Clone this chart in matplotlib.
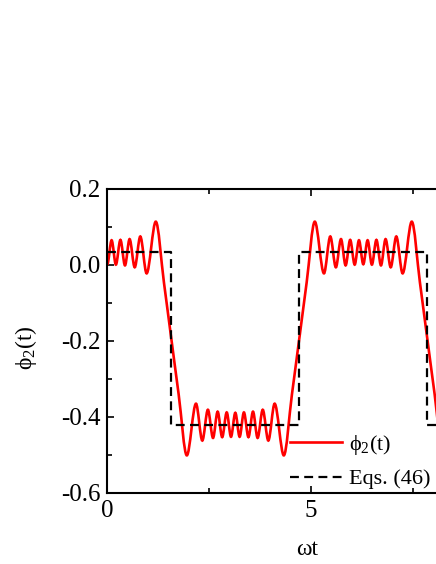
import matplotlib
matplotlib.use('Agg')
import matplotlib.pyplot as plt
from matplotlib.path import Path
from matplotlib.patches import PathPatch
from matplotlib.lines import Line2D
from matplotlib.ticker import MultipleLocator

plt.rcParams['font.family'] = ['Liberation Serif', 'DejaVu Serif']
plt.rcParams['mathtext.fontset'] = 'custom'
plt.rcParams['mathtext.rm'] = 'Liberation Serif'
plt.rcParams['mathtext.it'] = 'Liberation Serif:italic'

# phi_2(t): turning points / key points
t_phi = [0.000, 0.106, 0.211, 0.322, 0.434, 0.547, 0.673, 0.810, 0.965, 1.190,
         1.390, 1.571, 1.752,
         1.952, 2.177, 2.332, 2.469, 2.595, 2.708, 2.820, 2.931, 3.036, 3.142,
         3.248, 3.353, 3.464, 3.576, 3.689, 3.815, 3.952, 4.107, 4.332,
         4.531, 4.712, 4.893,
         5.093, 5.318, 5.473, 5.610, 5.736, 5.849, 5.961, 6.072, 6.177, 6.283,
         6.389, 6.494, 6.605, 6.717, 6.830, 6.956, 7.093, 7.248, 7.473,
         7.673, 7.854, 8.035,
         8.236, 8.460, 8.615]
phi = [0.002, 0.065, 0.001, 0.066, -0.001, 0.068, -0.006, 0.075, -0.022, 0.114,
       -0.046, -0.194, -0.341,
       -0.501, -0.365, -0.462, -0.381, -0.455, -0.386, -0.453, -0.388, -0.452, -0.389,
       -0.452, -0.388, -0.453, -0.386, -0.455, -0.381, -0.462, -0.365, -0.501,
       -0.341, -0.194, -0.046,
       0.114, -0.022, 0.075, -0.006, 0.068, -0.001, 0.066, 0.001, 0.065, 0.002,
       0.065, 0.001, 0.066, -0.001, 0.068, -0.006, 0.075, -0.022, 0.114,
       -0.046, -0.194, -0.341,
       -0.501, -0.365, -0.462]

# Eqs. (46): step function
t_eq = [0, 1.571, 1.571, 4.712, 4.712, 7.854, 7.854, 10.5]
phi_eq = [0.033, 0.033, -0.42, -0.42, 0.033, 0.033, -0.42, -0.42]

lab_phi = 'ϕ$_\\mathregular{2}$(t)'


def smooth_path(ts, ys):
    # cubic bezier through the points, flat at the turning points
    n = len(ts)
    m = []
    for i in range(n):
        if i == 0:
            m.append(0.0)
        elif i == n - 1:
            m.append((ys[i] - ys[i - 1]) / (ts[i] - ts[i - 1]))
        elif (ys[i] - ys[i - 1]) * (ys[i + 1] - ys[i]) <= 0:
            m.append(0.0)
        else:
            m.append((ys[i + 1] - ys[i - 1]) / (ts[i + 1] - ts[i - 1]))
    verts = [(ts[0], ys[0])]
    codes = [Path.MOVETO]
    for i in range(n - 1):
        h = ts[i + 1] - ts[i]
        verts += [(ts[i] + h / 3, ys[i] + m[i] * h / 3),
                  (ts[i + 1] - h / 3, ys[i + 1] - m[i + 1] * h / 3),
                  (ts[i + 1], ys[i + 1])]
        codes += [Path.CURVE4] * 3
    return Path(verts, codes)


fig = plt.figure(figsize=(4.36, 5.64), dpi=100)
ax = fig.add_axes([0.2461, 0.1259, 0.9158, 0.5390])

ax.add_patch(PathPatch(smooth_path(t_phi, phi), facecolor='none',
                       edgecolor='red', lw=1.9, zorder=2))
ax.plot(t_eq, phi_eq, color='black', ls='--', lw=1.6, dashes=(4, 2.4), zorder=3)

ax.set_xlim(0, 9.8)
ax.set_ylim(-0.6, 0.2)
ax.xaxis.set_major_locator(MultipleLocator(5))
ax.xaxis.set_minor_locator(MultipleLocator(2.5))
ax.yaxis.set_major_locator(MultipleLocator(0.2))
ax.yaxis.set_minor_locator(MultipleLocator(0.1))
ax.yaxis.set_major_formatter(plt.FuncFormatter(lambda v, p: f'{v:.1f}'))
ax.tick_params(which='both', direction='in', top=True, right=True,
               labelsize=18, width=1.2)
ax.tick_params(which='major', length=5, pad=5)
ax.tick_params(which='minor', length=3.5)
for s in ax.spines.values():
    s.set_linewidth(1.5)

ax.set_xlabel('ωt', fontsize=17)
ax.set_ylabel(lab_phi, fontsize=17)
ax.xaxis.set_label_coords(0.5, -0.152)
ax.yaxis.set_label_coords(-0.17, 0.477)

handles = [Line2D([], [], color='red', lw=1.9),
           Line2D([], [], color='black', ls='--', lw=1.6, dashes=(4, 2.4))]
fig.legend(handles, [lab_phi, 'Eqs. (46)'],
           loc='upper left', bbox_to_anchor=(0.665, 0.233), frameon=False,
           fontsize=16, handlelength=2.35, handletextpad=0.3,
           borderpad=0, borderaxespad=0, labelspacing=0.55)

fig.savefig('out.png', dpi=100)
